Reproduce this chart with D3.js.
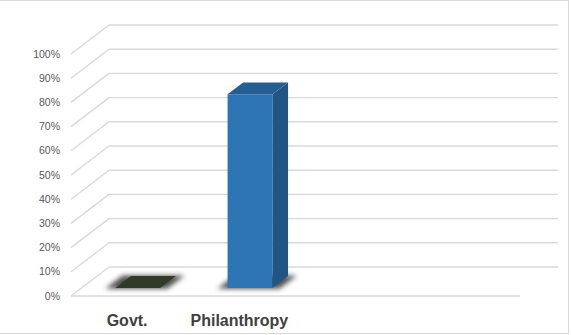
<!DOCTYPE html>
<html>
<head>
<meta charset="utf-8">
<script src="https://cdn.jsdelivr.net/npm/d3@7"></script>
<style>
  body { margin: 0; background: #fff; }
  svg { display: block; }
</style>
</head>
<body>
<div id="chart"></div>
<script>
var w = 571, h = 335;

// data
var categories = ["Govt.", "Philanthropy", "", ""];
var values = [0, 0.8, null, null];
var barColors = ["#2f3b27", "#2e75b6", null, null];
var tickValues = [0, 0.1, 0.2, 0.3, 0.4, 0.5, 0.6, 0.7, 0.8, 0.9, 1.0];

// 3d frame
var floorLeft = 71, floorRight = 520, floorY = 296;
var depthX = 38, depthY = -29;
var barT0 = 0.28, barT1 = 0.69;

var x = d3.scaleBand()
    .domain(d3.range(categories.length))
    .range([floorLeft, floorRight])
    .paddingInner(0.6)
    .paddingOuter(0.3);

var y = d3.scaleLinear().domain([0, 1]).range([0, 242]);

// project floor coord (x, value, depth fraction) to screen
function pt(px, v, t) {
    return [px + t * depthX, floorY - y(v) + t * depthY];
}
function poly(points) {
    return points.map(function(p){ return p.join(","); }).join(" ");
}

var svg = d3.select("#chart").append("svg")
    .attr("width", w)
    .attr("height", h)

var defs = svg.append("defs");
defs.append("filter").attr("id", "blur")
    .attr("x", "-50%").attr("y", "-50%").attr("width", "200%").attr("height", "200%")
  .append("feGaussianBlur").attr("stdDeviation", 2.4);

// chart border
svg.append("rect")
    .attr("x", -1).attr("y", 0.5)
    .attr("width", 569.5).attr("height", 333)
    .attr("fill", "none")
    .attr("stroke", "#d9d9d9");

var grid = svg.append("g")
    .attr("stroke", "#d9d9d9")
    .attr("stroke-width", 1.4)
    .attr("fill", "none");

// side wall diagonals
grid.selectAll(".diag").data(tickValues).enter().append("line")
    .attr("x1", function(d){ return pt(floorLeft, d, 0)[0]; })
    .attr("y1", function(d){ return pt(floorLeft, d, 0)[1]; })
    .attr("x2", function(d){ return pt(floorLeft, d, 1)[0]; })
    .attr("y2", function(d){ return pt(floorLeft, d, 1)[1]; });

// back wall gridlines
grid.selectAll(".back").data(tickValues).enter().append("line")
    .attr("x1", function(d){ return pt(floorLeft, d, 1)[0]; })
    .attr("y1", function(d){ return pt(floorLeft, d, 1)[1]; })
    .attr("x2", function(d){ return pt(floorRight, d, 1)[0]; })
    .attr("y2", function(d){ return pt(floorRight, d, 1)[1]; });

// floor front edge
grid.append("line")
    .attr("x1", floorLeft).attr("y1", floorY)
    .attr("x2", floorRight).attr("y2", floorY);

// y tick labels
svg.selectAll(".ytick").data(tickValues).enter().append("text")
    .attr("x", 60)
    .attr("y", function(d){ return floorY - y(d); })
    .attr("dy", "0.35em")
    .attr("text-anchor", "end")
    .attr("font-family", "Liberation Sans, Arial, sans-serif")
    .attr("font-size", 10.5)
    .attr("fill", "#595959")
    .text(d3.format(".0%"));

var bars = categories.map(function(c, i){
    return {i: i, name: c, value: values[i], color: barColors[i]};
}).filter(function(d){ return d.value != null; });

// shadows
svg.selectAll(".shadow").data(bars).enter().append("polygon")
    .attr("fill", "#333")
    .attr("opacity", 0.85)
    .attr("filter", "url(#blur)")
    .attr("points", function(d){
        var x0 = x(d.i) - 9, x1 = x(d.i) + x.bandwidth() + 8;
        return poly([pt(x0, 0, barT0 - 0.03), pt(x1, 0, barT0 - 0.03),
                     pt(x1, 0, barT1 + 0.02), pt(x0, 0, barT1 + 0.02)]);
    });

var g = svg.selectAll(".bar").data(bars).enter().append("g");

// front face
g.filter(function(d){ return d.value > 0; }).append("polygon")
    .attr("fill", function(d){ return d.color; })
    .attr("points", function(d){
        var x0 = x(d.i), x1 = x(d.i) + x.bandwidth();
        return poly([pt(x0, 0, barT0), pt(x1, 0, barT0), pt(x1, d.value, barT0), pt(x0, d.value, barT0)]);
    });

// side face
g.filter(function(d){ return d.value > 0; }).append("polygon")
    .attr("fill", function(d){ return d3.color(d.color).darker(0.9); })
    .attr("points", function(d){
        var x1 = x(d.i) + x.bandwidth();
        return poly([pt(x1, 0, barT0), pt(x1, 0, barT1), pt(x1, d.value, barT1), pt(x1, d.value, barT0)]);
    });

// top face
g.append("polygon")
    .attr("fill", function(d){ return d.value > 0 ? d3.color(d.color).darker(0.6) : d.color; })
    .attr("points", function(d){
        var x0 = x(d.i), x1 = x(d.i) + x.bandwidth();
        return poly([pt(x0, d.value, barT0), pt(x1, d.value, barT0), pt(x1, d.value, barT1), pt(x0, d.value, barT1)]);
    });

// category labels
svg.selectAll(".xlabel").data(categories).enter().append("text")
    .attr("x", function(d, i){ return x(i) + x.bandwidth() / 2; })
    .attr("y", 326)
    .attr("text-anchor", "middle")
    .attr("font-family", "Liberation Sans, Arial, sans-serif")
    .attr("font-weight", "bold")
    .attr("font-size", 16)
    .attr("fill", "#404040")
    .text(function(d){ return d; });
</script>
</body>
</html>
